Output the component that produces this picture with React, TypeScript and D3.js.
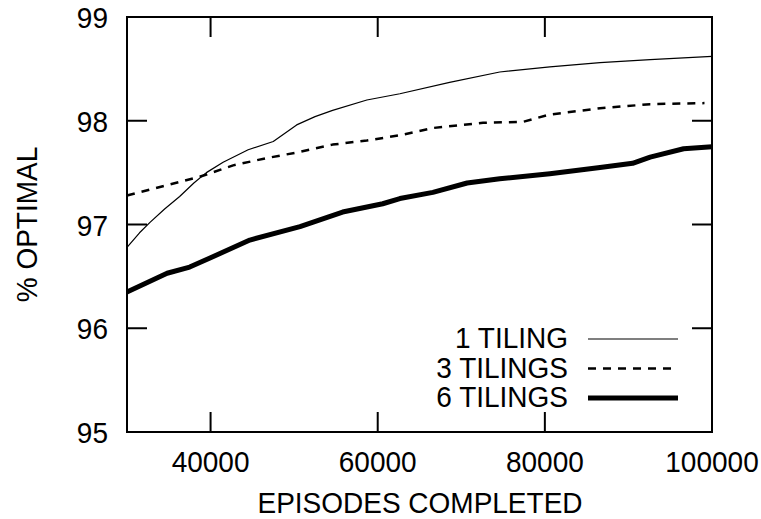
import React from "react";
import * as d3 from "d3";

const xTicks = [40000, 60000, 80000, 100000];
const yTicks = [95, 96, 97, 98, 99];

const oneTilingX = [30000, 31500, 32750, 34500, 36300, 38000, 39500, 41500, 44500, 47500, 50300, 52500, 54600, 58700, 62650, 68600, 74600, 80600, 86600, 92600, 100000];
const oneTilingY = [96.78, 96.92, 97.02, 97.15, 97.27, 97.40, 97.50, 97.60, 97.72, 97.80, 97.96, 98.04, 98.10, 98.20, 98.26, 98.37, 98.47, 98.52, 98.56, 98.59, 98.62];

const threeTilingsX = [30000, 38700, 42700, 46700, 50700, 54600, 58700, 62650, 66600, 72600, 77400, 80600, 86600, 92600, 99100];
const threeTilingsY = [97.28, 97.46, 97.57, 97.64, 97.70, 97.77, 97.81, 97.86, 97.93, 97.98, 97.99, 98.06, 98.12, 98.16, 98.17];

const sixTilingsX = [30000, 34800, 37500, 40000, 44700, 50700, 55800, 60600, 62650, 66600, 70700, 74600, 80600, 86600, 90500, 92600, 96600, 100000];
const sixTilingsY = [96.35, 96.53, 96.59, 96.68, 96.85, 96.98, 97.12, 97.20, 97.25, 97.31, 97.40, 97.44, 97.49, 97.55, 97.59, 97.65, 97.73, 97.75];

const seriesNames = ["1 TILING", "3 TILINGS", "6 TILINGS"];

const W = 761, H = 519;
const L = 127, R = 712, T = 17, B = 432;
const FONT = "Liberation Sans, Arial, sans-serif";
const FS = 28;
const SY = 1.08;

function T2(props: { x: number; y: number; anchor: string; rotate?: boolean; children: React.ReactNode }) {
  const tr = `translate(${props.x},${props.y})${props.rotate ? " rotate(-90)" : ""} scale(1,${SY})`;
  return (
    <text transform={tr} textAnchor={props.anchor} fontSize={FS}>{props.children}</text>
  );
}

export default function App() {
  const x = d3.scaleLinear().domain([30000, 100000]).range([L, R]);
  const y = d3.scaleLinear().domain([95, 99]).range([B, T]);
  const line = d3.line<[number, number]>().x(d => x(d[0])).y(d => y(d[1]));
  const zip = (a: number[], b: number[]) => a.map((v, i) => [v, b[i]] as [number, number]);

  const styles = [
    { w: 1.2, dash: undefined as string | undefined },
    { w: 2.5, dash: "8,7" },
    { w: 5, dash: undefined as string | undefined },
  ];
  const data = [zip(oneTilingX, oneTilingY), zip(threeTilingsX, threeTilingsY), zip(sixTilingsX, sixTilingsY)];
  const tickLen = 20;

  return (
    <svg width={W} height={H} style={{ position: "absolute", left: 0, top: 0 }} fontFamily={FONT}>
      <rect width={W} height={H} fill="#fff" />
      {data.map((d, i) => (
        <path key={i} d={line(d) || ""} fill="none" stroke="#000" strokeWidth={styles[i].w}
          strokeDasharray={styles[i].dash} strokeLinejoin="round" />
      ))}
      {yTicks.map(t => (
        <g key={"y" + t}>
          <line x1={L} x2={L + tickLen} y1={y(t)} y2={y(t)} stroke="#000" strokeWidth={2} />
          <line x1={R} x2={R - tickLen} y1={y(t)} y2={y(t)} stroke="#000" strokeWidth={2} />
          <T2 x={108} y={y(t) + 11} anchor="end">{t}</T2>
        </g>
      ))}
      {xTicks.map(t => (
        <g key={"x" + t}>
          <line x1={x(t)} x2={x(t)} y1={B} y2={B - tickLen} stroke="#000" strokeWidth={2} />
          <line x1={x(t)} x2={x(t)} y1={T} y2={T + tickLen} stroke="#000" strokeWidth={2} />
          <T2 x={x(t)} y={472} anchor="middle">{t}</T2>
        </g>
      ))}
      <rect x={L} y={T} width={R - L} height={B - T} fill="none" stroke="#000" strokeWidth={2} />
      <T2 x={420} y={513} anchor="middle">EPISODES COMPLETED</T2>
      <T2 x={37} y={(T + B) / 2} anchor="middle" rotate>% OPTIMAL</T2>
      {seriesNames.map((n, i) => {
        const base = 348 + i * 29.5;
        const ly = base - 9;
        return (
          <g key={n}>
            <T2 x={568} y={base} anchor="end">{n}</T2>
            <line x1={588} x2={678} y1={ly} y2={ly} stroke="#000" strokeWidth={styles[i].w} strokeDasharray={styles[i].dash} />
          </g>
        );
      })}
    </svg>
  );
}
